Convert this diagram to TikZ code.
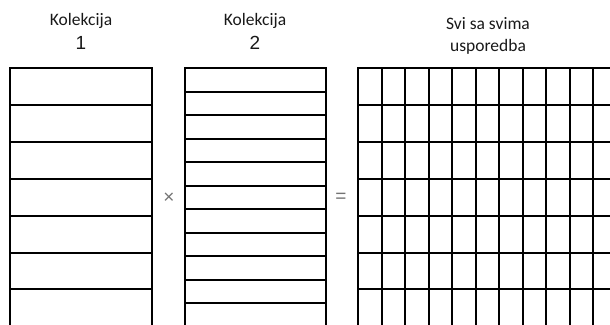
\documentclass[tikz,border=0pt]{standalone}
\usepackage{fontspec}
\setmainfont{Carlito}
\newfontfamily\brojfont{Liberation Sans}
\usetikzlibrary{positioning}

\begin{document}
\begin{tikzpicture}[x=1pt,y=-1pt,
  okvir/.style={line width=2pt,black},
  naslov/.style={font=\fontsize{17.5}{22}\selectfont,align=center,text=black!90,inner sep=0pt},
  broj/.style={font=\brojfont\fontsize{19}{20}\selectfont,text=black!90,inner sep=0pt},
  znak/.style={font=\brojfont\fontsize{19}{19}\selectfont,text=black!55,inner sep=0pt}]
  \useasboundingbox (0,0) rectangle (610,324);
  \clip (0,0) rectangle (610,324);
  % naslovi
  \node[naslov] (kol1) at (81,21) {Kolekcija};
  \node[broj] (br1) at (81,43) {1};
  \node[naslov] (kol2) at (255,21) {Kolekcija};
  \node[broj] (br2) at (255,43) {2};
  \node[naslov] (svi) at (488,36) {Svi sa svima\\usporedba};
  % kolekcija 1
  \draw[okvir] (10,340) -- (10,68) -- (152,68) -- (152,340);
  \foreach \k in {1,...,7}
    \draw[okvir] (10,68+36.9*\k) -- (152,68+36.9*\k);
  % kolekcija 2
  \draw[okvir] (184.5,340) -- (184.5,68) -- (326,68) -- (326,340);
  \foreach \k in {1,...,11}
    \draw[okvir] (184.5,68+23.5*\k) -- (326,68+23.5*\k);
  % svi sa svima
  \draw[okvir] (358,340) -- (358,68) -- (630,68);
  \foreach \k in {1,...,11}
    \draw[okvir] (358+23.5*\k,68) -- (358+23.5*\k,340);
  \foreach \k in {1,...,7}
    \draw[okvir] (358,68+36.9*\k) -- (630,68+36.9*\k);
  % znakovi
  \node[znak] (puta) at (169,198) {×};
  \node[znak] (jednako) at (341,198) {=};
\end{tikzpicture}
\end{document}
